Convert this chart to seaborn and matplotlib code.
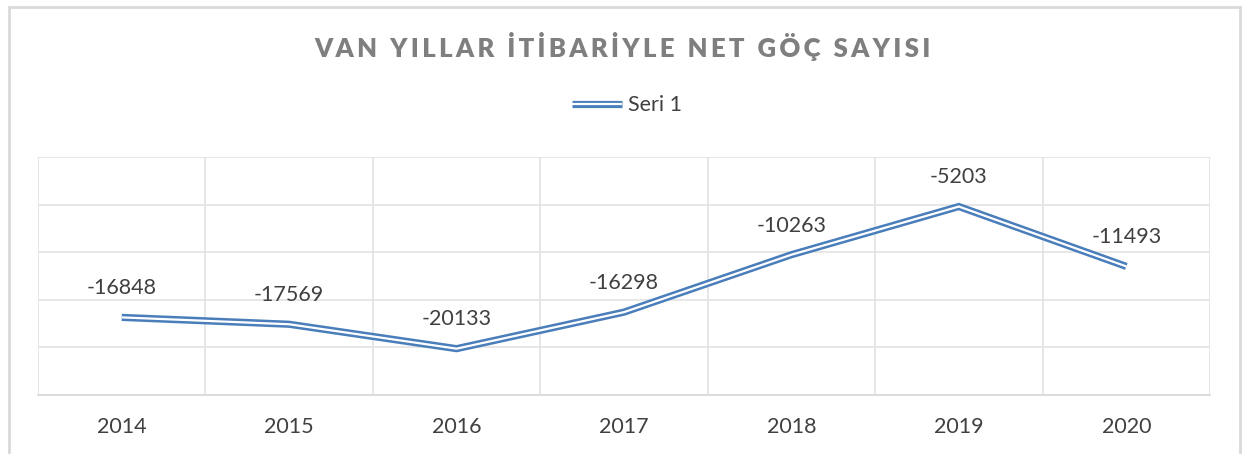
import matplotlib.pyplot as plt
import matplotlib.patches as mpatches
import matplotlib.patheffects as pe
from matplotlib.lines import Line2D
from matplotlib.ticker import MultipleLocator, FixedLocator
import numpy as np
import pandas as pd
import seaborn as sns

years = ["2014", "2015", "2016", "2017", "2018", "2019", "2020"]
net_migration = [-16848, -17569, -20133, -16298, -10263, -5203, -11493]
series_name = "Seri 1"
title = "VAN YILLAR İTİBARİYLE NET GÖÇ SAYISI"

sns.set_theme(style="white")
plt.rcParams["font.family"] = ["Lato", "DejaVu Sans"]

blue = "#4A7EBB"
grid_c = "#E3E3E3"
text_c = "#404040"
fs = 15.5

df = pd.DataFrame({"year": years, "value": net_migration})
df["pos"] = np.arange(len(years))

fig = plt.figure(figsize=(12.46, 4.54), dpi=100)
ax = fig.add_axes([38 / 1246, 59 / 454, (1210 - 38) / 1246, (395 - 157) / 454])

# double (compound) line: thick blue with a thin white core
sns.lineplot(data=df, x="pos", y="value", ax=ax, color=blue, linewidth=5.2,
             solid_joinstyle="miter", solid_capstyle="butt", zorder=3)
sns.lineplot(data=df, x="pos", y="value", ax=ax, color="white", linewidth=1.6,
             solid_joinstyle="miter", solid_capstyle="butt", zorder=4)

ax.set_xlim(-0.5, len(years) - 0.5)
ax.set_ylim(-25000, 0)
ax.yaxis.set_major_locator(MultipleLocator(5000))
ax.set_yticklabels([])
ax.xaxis.set_major_locator(FixedLocator(df["pos"]))
ax.set_xticklabels(years, fontsize=fs, color=text_c)
ax.xaxis.set_minor_locator(FixedLocator(np.arange(-0.5, len(years), 1.0)))
ax.tick_params(axis="both", which="both", length=0)
ax.tick_params(axis="x", pad=16)
ax.grid(True, axis="y", which="major", color=grid_c, linewidth=1.2)
ax.grid(True, axis="x", which="minor", color=grid_c, linewidth=1.2)
ax.grid(False, axis="x", which="major")
ax.set_xlabel("")
ax.set_ylabel("")
for s in ax.spines.values():
    s.set_visible(False)
ax.spines["bottom"].set_visible(True)
ax.spines["bottom"].set_color("#D9D9D9")

for p, v in zip(df["pos"], df["value"]):
    ax.annotate(str(v), (p, v), xytext=(0, 21), textcoords="offset points",
                ha="center", va="center", fontsize=fs, color=text_c)

spaced = "\u2009".join(title).replace("\u2009 \u2009", "\u2009\u2009\u2009\u2009")
fig.text(0.5, 0.898, spaced, ha="center", va="center", fontsize=18.5,
         fontweight="heavy", color="#7F7F7F")

handle = Line2D([0], [0], color=blue, linewidth=5.2, solid_capstyle="butt",
                path_effects=[pe.Stroke(linewidth=5.2, foreground=blue),
                              pe.Stroke(linewidth=1.6, foreground="white")])
fig.legend([handle], [series_name], loc="center", bbox_to_anchor=(0.5035, 0.768),
           frameon=False, fontsize=fs, handlelength=2.3, handletextpad=0.3,
           labelcolor=text_c)

border = mpatches.Rectangle((8.5 / 1246, -0.1), (1231) / 1246, 1.085,
                            transform=fig.transFigure, fill=False,
                            edgecolor="#D9D9D9", linewidth=2)
fig.patches.append(border)

fig.savefig("out.png", dpi=100)
